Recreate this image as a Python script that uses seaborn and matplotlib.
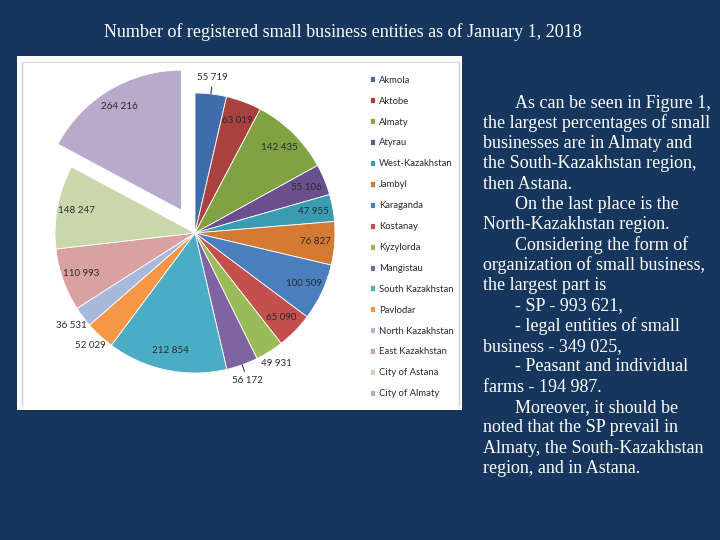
import numpy as np
import matplotlib.pyplot as plt
from matplotlib.patches import Rectangle
import seaborn as sns

# ---- data ----
regions = ["Akmola", "Aktobe", "Almaty", "Atyrau", "West-Kazakhstan", "Jambyl",
           "Karaganda", "Kostanay", "Kyzylorda", "Mangistau", "South Kazakhstan",
           "Pavlodar", "North Kazakhstan", "East Kazakhstan", "City of Astana",
           "City of Almaty"]
entities = [55719, 63019, 142435, 55106, 47955, 76827, 100509, 65090, 49931,
            56172, 212854, 52029, 36531, 110993, 148247, 264216]

# ---- style ----
palette = sns.color_palette([
    "#3f6caa", "#a9413e", "#80a243", "#6a4f8f", "#3a9bb3", "#d47a32",
    "#4a7ebf", "#c4504d", "#9bbb59", "#8064a2", "#4bacc6", "#f79646",
    "#a8b9dc", "#d9a1a0", "#c8d8aa", "#b7aacb"])
outside_labels = {"Akmola", "Kyzylorda", "Mangistau", "Pavlodar", "North Kazakhstan"}
leader_lines = {"Akmola", "Mangistau"}
exploded = {"City of Almaty": 0.19}

NAVY = "#17365d"
W, H = 720, 540
SANS = ["Lato", "DejaVu Sans"]

sns.set_theme(style="white")
plt.rcParams["font.family"] = ["Liberation Serif", "DejaVu Serif"]

fig = plt.figure(figsize=(7.2, 5.4), dpi=100, facecolor=NAVY)

# white chart panel
fig.patches.append(Rectangle((17 / W, 1 - 410 / H), 445 / W, 354 / H,
                             transform=fig.transFigure, facecolor="white",
                             edgecolor="none", zorder=-5))
for x in (22, 459):
    fig.add_artist(plt.Line2D([x / W, x / W], [1 - 405 / H, 1 - 62 / H],
                              transform=fig.transFigure, color="#d0d0d0", lw=1,
                              zorder=-4))
fig.add_artist(plt.Line2D([22 / W, 459 / W], [1 - 62 / H, 1 - 62 / H],
                          transform=fig.transFigure, color="#d9d9d9", lw=0.8,
                          zorder=-4))

# pie axes: centre (195, 233) px, radius 140 px
cx, cy, half = 195, 233, 150
ax = fig.add_axes([(cx - half) / W, 1 - (cy + half) / H, 2 * half / W, 2 * half / H])
ax.set_facecolor("none")
ax.set_zorder(2)

explode = [exploded.get(r, 0) for r in regions]
wedges, _ = ax.pie(entities, colors=palette, startangle=90, counterclock=False,
                   explode=explode, radius=1,
                   wedgeprops=dict(linewidth=0.6, edgecolor="white"))
lim = half / 140
ax.set_xlim(-lim, lim)
ax.set_ylim(-lim, lim)
ax.set_aspect("equal")
ax.axis("off")

for w, name, val, ex in zip(wedges, regions, entities, explode):
    ang = np.deg2rad((w.theta1 + w.theta2) / 2)
    dx, dy = np.cos(ang), np.sin(ang)
    ox, oy = ex * dx, ex * dy
    txt = f"{val:,}".replace(",", " ")
    if name in outside_labels:
        r = 1.1
        if name in leader_lines:
            ax.plot([ox + dx * 1.0, ox + dx * 1.05], [oy + dy * 1.0, oy + dy * 1.05],
                    color="#404040", lw=0.8)
            r = 1.12
    else:
        r = 0.86
    ax.text(ox + dx * r, oy + dy * r, txt, ha="center", va="center",
            fontsize=7, color="#2a2a2a", family=SANS)

# legend
leg = fig.legend(wedges, regions, loc="upper left",
                 bbox_to_anchor=(366 / W, 1 - 72 / H), frameon=False,
                 prop={"family": SANS, "size": 6.8},
                 handlelength=0.6, handleheight=0.6, handletextpad=0.35,
                 labelspacing=1.26, borderaxespad=0)
for t in leg.get_texts():
    t.set_color("#2a2a2a")

# title
fig.text(343 / W, 1 - 32 / H,
         "Number of registered small business entities as of January 1, 2018",
         ha="center", va="center", fontsize=13, color="white")

# commentary
lines = [
    ("As can be seen in Figure 1,", True),
    ("the largest percentages of small", False),
    ("businesses are in Almaty and", False),
    ("the South-Kazakhstan region,", False),
    ("then Astana.", False),
    ("On the last place is the", True),
    ("North-Kazakhstan region.", False),
    ("Considering the form of", True),
    ("organization of small business,", False),
    ("the largest part is", False),
    ("- SP - 993 621,", True),
    ("- legal entities of small", True),
    ("business - 349 025,", False),
    ("- Peasant and individual", True),
    ("farms - 194 987.", False),
    ("Moreover, it should be", True),
    ("noted that the SP prevail in", False),
    ("Almaty, the South-Kazakhstan", False),
    ("region, and in Astana.", False),
]
for i, (line, indent) in enumerate(lines):
    x = 515 if indent else 483
    y = 103 + i * 20.3
    fig.text(x / W, 1 - y / H, line, ha="left", va="center",
             fontsize=13, color="white")

fig.savefig("out.png", dpi=100, facecolor=NAVY)
